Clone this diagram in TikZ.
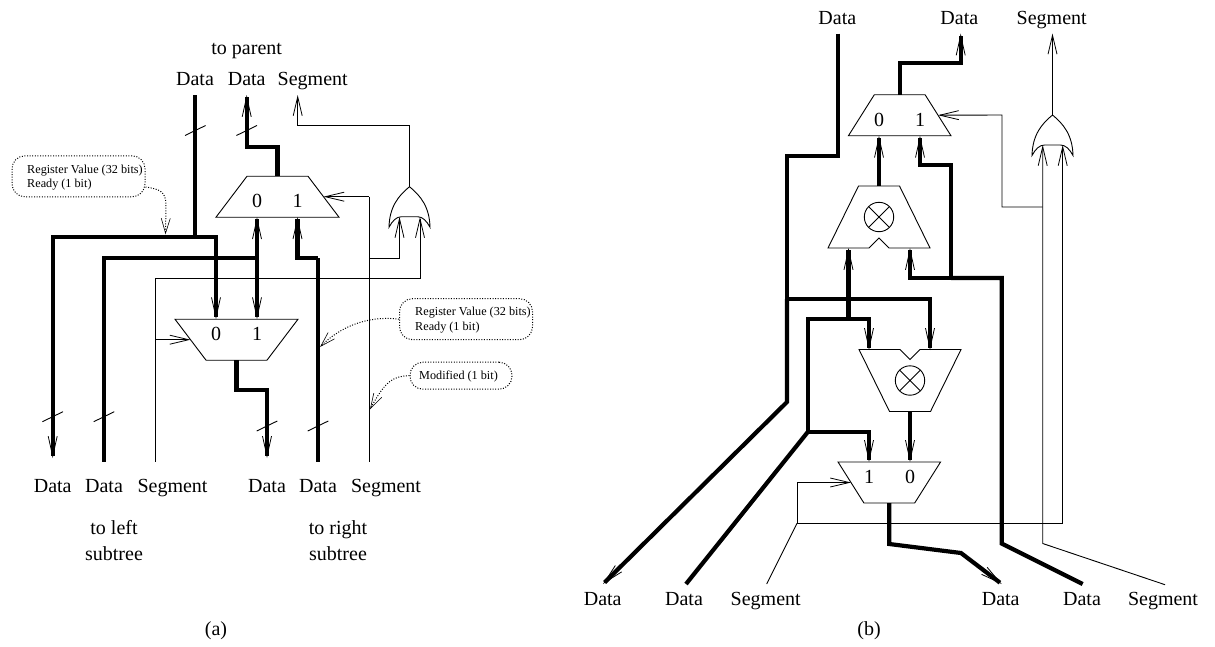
\documentclass[tikz,border=0pt]{standalone}
\usepackage{fontspec}
\setmainfont{Liberation Serif}
\usetikzlibrary{arrows.meta,shapes.geometric}
\tikzset{
  wire/.style={line width=0.9pt},
  wirearrow/.style={wire, -{Straight Barb[length=19pt, width=9pt, line width=0.8pt]}},
  bus/.style={line width=4.2pt},
  busarrow/.style={bus, -{Straight Barb[length=20pt, width=9pt, line width=0.8pt]}},
  note/.style={line width=1pt, dash pattern=on 1pt off 1.6pt},
  notearrow/.style={note, -{Straight Barb[length=15pt, width=9pt, line width=0.6pt]}},
  muxbox/.style={trapezium, draw, line width=0.9pt, inner sep=1pt, outer sep=0pt,
                 trapezium stretches=true, trapezium angle=63,
                 minimum width=123pt, minimum height=41pt},
  muxsmall/.style={muxbox, minimum width=102.5pt},
  pinlabel/.style={font=\fontsize{20}{24}\selectfont},
  sig/.style={font=\fontsize{20}{24}\selectfont, anchor=base, inner sep=0pt},
  notebox/.style={draw, note, rounded corners=13pt},
  notetext/.style={font=\fontsize{12.2}{14.6}\selectfont, anchor=base west, inner sep=0pt},
  slash/.pic={\draw[wire] (-10.3,5) -- (10.3,-5);},
  orgate/.pic={\draw[wire] (0,0) .. controls (-11,9) and (-20,20) .. (-20.5,40.5)
      .. controls (-17,34) and (-13,30) .. (-8,30) -- (8,30)
      .. controls (13,30) and (17,34) .. (20.5,40.5)
      .. controls (20,20) and (11,9) .. (0,0) -- cycle;},
  xmux/.pic={\draw[wire] (-51,31) -- (-20.5,-31) -- (20.5,-31) -- (51,31) -- (10,31)
      -- (0,21) -- (-10,31) -- cycle;
    \draw[wire] (0,0) circle (14.7pt);
    \draw[wire] (-10.4,-10.4) -- (10.4,10.4) (-10.4,10.4) -- (10.4,-10.4);},
}
\begin{document}
\begin{tikzpicture}[x=1pt,y=-1pt]
\useasboundingbox (0,0) rectangle (1215,646);

% signal names
\foreach \n/\x/\y/\t in {parent/246.7/54/to parent, atopd/195/85/Data, atopq/246.7/85/Data, atops/312.7/85/Segment,
    alfd/52.7/492.7/Data, alfq/104/492.7/Data, alfs/172.5/492.7/Segment,
    arq/267/492.7/Data, ard/318/492.7/Data, ars/386/492.7/Segment,
    leftup/114/534/to left, leftdn/114/560.7/subtree, rightup/338/534/to right, rightdn/338/560.7/subtree,
    capa/216/635/(a), capb/869/635/(b),
    btopd/837.3/24/Data, btopq/959.3/24/Data, btops/1051.7/24/Segment,
    blfd/602.7/605/Data, blfq/684/605/Data, blfs/765.7/605/Segment,
    brq/1000.7/605/Data, brd/1082/605/Data, brs/1163/605/Segment}
  \node[sig] (\n) at (\x,\y) {\t};

% part (a)
\node[muxbox] (muxa) at (277.5,196.7) {};
\node[muxbox, shape border rotate=180] (muxc) at (236.5,339.7) {};
\node[pinlabel] (muxa0) at (257,201) {0};
\node[pinlabel] (muxa1) at (297.5,201) {1};
\node[pinlabel] (muxc0) at (216,334) {0};
\node[pinlabel] (muxc1) at (257,334) {1};
\pic at (409.5,186.7) {orgate};
\foreach \n/\x/\y in {ain/195.3/95, aj/195.3/237, aout/246.7/95, aleft/52.7/458, alq/104/461.7, asl/155/461.7,
    ajq/257/258, aq1/318/461.7, akq/318/258, aoq/267/458, aseg/297.7/95, asr/369/461.7,
    asrj/369/258, ora1/399.5/217, ora2/420/217, ortop/409.5/186.7, osel/369/196.7}
  \coordinate (\n) at (\x,\y);

\draw[bus] (ain) -- (aj);
\draw[busarrow] (aj) -| (aleft);
\draw[busarrow] (aj) -| (muxc0 |- muxc.north);
\draw[busarrow] (muxa.north) |- (246.7,146.7) -- (aout);
\draw[bus] (alq) |- (ajq);
\draw[busarrow] (ajq) -- (muxa0 |- muxa.south);
\draw[busarrow] (ajq) -- (muxc1 |- muxc.north);
\draw[bus] (aq1) -- (akq);
\draw[busarrow] (akq) -| (muxa1 |- muxa.south);
\draw[busarrow] (muxc.south) |- (267,390) -- (aoq);

\draw[wirearrow] (asl |- muxc.west) -- (muxc.west);
\draw[wirearrow] (asl) |- (420,278.3) -- (ora2);
\draw[wirearrow] (asrj) -| (ora1);
\draw[wire] (asr) -- (osel);
\draw[wirearrow] (osel) -- (muxa.east);
\draw[wirearrow] (ortop) |- (aseg |- 0,125) -- (aseg);

\foreach \x/\y in {52.7/416.7, 104/416.7, 267/426, 318/426, 195.3/130.5, 246.7/130.5}
  \pic at (\x,\y) {slash};

% notes of part (a)
\node[notebox, minimum width=133pt, minimum height=41pt] (nreg) at (78.5,176.3) {};
\node[notetext] at (27,173) {Register Value (32 bits)};
\node[notetext] at (27,187.3) {Ready (1 bit)};
\draw[notearrow] (nreg.east |- 0,187) .. controls (160,189) and (166,192) .. (166,205) -- (165.5,234.3);
\node[notebox, minimum width=133pt, minimum height=41pt] (nregb) at (466,319.2) {};
\node[notetext] at (415,315) {Register Value (32 bits)};
\node[notetext] at (415,330) {Ready (1 bit)};
\draw[notearrow] (nregb.west) .. controls (375,316) and (345,322) .. (320,347);
\node[notebox, minimum width=102pt, minimum height=27pt] (nmod) at (461,375.7) {};
\node[notetext] at (419,379) {Modified (1 bit)};
\draw[notearrow] (nmod.west) .. controls (392,376) and (385,382) .. (370,409.3);

% part (b)
\node[muxsmall] (muxb) at (899.7,115.2) {};
\node[muxsmall, shape border rotate=180] (muxd) at (889.3,482.5) {};
\node[pinlabel] (muxb0) at (879,120) {0};
\node[pinlabel] (muxb1) at (920,120) {1};
\node[pinlabel] (muxd1) at (869,477) {1};
\node[pinlabel] (muxd0) at (910,477) {0};
\pic at (879,217) {xmux};
\pic[yscale=-1] at (910,380.5) {xmux};
\pic at (1052.5,115) {orgate};
\foreach \n/\x/\y in {bin/838.3/33.5, bj/787/299, bcorn/787/402, bdata/603/584, bout/960.7/33.5,
    bup/848.5/319, bupt/848.5/248, bdl/808/319, bj2/808/431.7, bq/686/584,
    bxt/869/350, bxu/930/350, bxo/910/411, bin1/910/248, bq1/1082.7/584, bcr/1001.7/543.5,
    bjr/951/278, bseg/766.7/584, bsj/797/523.3, bsr/1062.7/523.3, bsrt/1062.7/145,
    bslt/1042.7/145, bsl/1042.7/543.5, bsq/1165/584.7, bsb/1042.7/207, bot/1052.5/115, bos/1052.5/33.5,
    bc1/889.3/544, bc2/961/553, boq/1001.7/584}
  \coordinate (\n) at (\x,\y);

\draw[bus] (bin) |- (787,156) -- (bj);
\draw[busarrow] (bj) -- (bcorn) -- (bdata);
\draw[busarrow] (bj) -| (bxu);
\draw[busarrow] (muxb.north) |- (bout |- 0,63) -- (bout);
\draw[busarrow] (879,186) -- (muxb0 |- muxb.south);
\draw[busarrow] (bup) -- (bupt);
\draw[bus] (bj2) |- (bup);
\draw[busarrow] (bup) -| (bxt);
\draw[busarrow] (bj2) -| (muxd1 |- muxd.north);
\draw[bus] (bj2) -- (bq);
\draw[busarrow] (bxo) -- (muxd0 |- muxd.north);
\draw[bus] (bq1) -- (bcr) |- (bjr);
\draw[busarrow] (bjr) -| (bin1);
\draw[busarrow] (bjr) |- (920,165) -- (muxb1 |- muxb.south);
\draw[busarrow] (muxd.south) -- (bc1) -- (bc2) -- (boq);

\draw[wirearrow] (bsj) |- (muxd.west);
\draw[wire] (bseg) -- (bsj);
\draw[wirearrow] (bsj) -| (bsrt);
\draw[wirearrow] (bsq) -- (bsl) -- (bslt);
\draw[wirearrow] (bsb) -| (1002,115) -- (muxb.east);
\draw[wirearrow] (bot) -- (bos);
\end{tikzpicture}
\end{document}
